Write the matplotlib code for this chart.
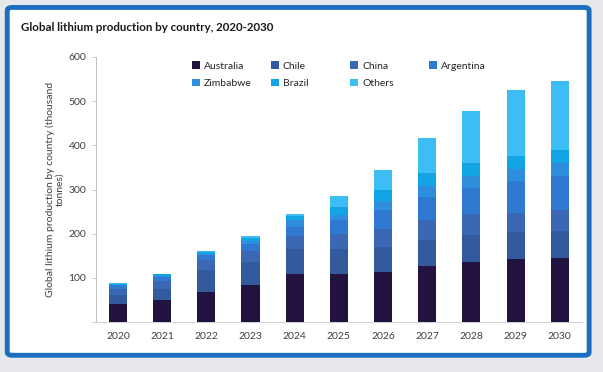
import numpy as np
import matplotlib
matplotlib.use('Agg')
import matplotlib.pyplot as plt
from matplotlib.patches import FancyBboxPatch, Patch
from matplotlib.legend import Legend

plt.rcParams['font.family'] = ['Lato', 'DejaVu Sans']

# data (thousand tonnes)
years = ['2020', '2021', '2022', '2023', '2024', '2025', '2026', '2027', '2028', '2029', '2030']
australia = [40, 50, 68, 85, 110, 109, 114, 127, 137, 142, 146]
chile     = [22, 25, 50, 52, 55, 56, 56, 59, 60, 61, 61]
china     = [14, 18, 22, 25, 30, 34, 40, 45, 47, 44, 47]
argentina = [8, 10, 12, 15, 20, 32, 44, 53, 60, 72, 77]
zimbabwe  = [0, 2, 3, 7, 15, 12, 20, 25, 26, 27, 28]
brazil    = [2, 3, 4, 6, 10, 18, 25, 28, 31, 30, 30]
others    = [2, 2, 3, 5, 5, 24, 45, 79, 117, 149, 157]

series = [('Australia', australia), ('Chile', chile), ('China', china),
          ('Argentina', argentina), ('Zimbabwe', zimbabwe), ('Brazil', brazil),
          ('Others', others)]
colors = ['#22123f', '#325a9c', '#3b68b4', '#2f79d0', '#2f8edb', '#12a4e4', '#3cbef4']

fig = plt.figure(figsize=(6.03, 3.72), dpi=100)
fig.patch.set_facecolor('#e6e8eb')

# framed card behind the chart
frame = FancyBboxPatch((0.012, 0.045), 0.965, 0.935, boxstyle='round,pad=0,rounding_size=0.008',
                       transform=fig.transFigure, facecolor='white', edgecolor='#1a6fbf',
                       linewidth=3.5, zorder=-5)
fig.patches.append(frame)

fig.text(0.035, 0.918, 'Global lithium production by country, 2020-2030',
         fontsize=8.3, fontweight='bold', color='#1a1a1a')

ax = fig.add_axes([0.159, 0.134, 0.806, 0.713])
ax.set_facecolor('none')

x = np.arange(len(years))
bottom = np.zeros(len(years))
for (name, vals), c in zip(series, colors):
    ax.bar(x, vals, bottom=bottom, width=0.41, color=c, label=name, zorder=2)
    bottom += np.array(vals)

ax.set_xlim(-0.5, len(years) - 0.5)
ax.set_ylim(0, 600)
ax.set_xticks(x)
ax.set_xticklabels(years)
ax.set_yticks(np.arange(0, 601, 100))
ax.set_yticklabels([''] + [str(v) for v in range(100, 601, 100)])
ax.tick_params(axis='x', length=0, pad=7, labelsize=7.5, colors='#404040')
ax.tick_params(axis='y', length=3, width=0.6, color='#bfbfbf', pad=4, labelsize=7.5, labelcolor='#404040')
for s in ['top', 'right']:
    ax.spines[s].set_visible(False)
ax.spines['left'].set_color('#bfbfbf')
ax.spines['bottom'].set_color('#d0d0d0')
ax.spines['left'].set_linewidth(0.7)
ax.spines['bottom'].set_linewidth(0.7)

ax.set_ylabel('Global lithium production by country (thousand\ntonnes)',
              fontsize=7.5, color='#404040', labelpad=3, linespacing=1.1)

# legend: 4 evenly spaced columns, filled row-wise
handles = [Patch(facecolor=c, label=n) for (n, _), c in zip(series, colors)]
cols = [[0, 4], [1, 5], [2, 6], [3]]
for k, idx in enumerate(cols):
    lg = Legend(ax, [handles[i] for i in idx], [series[i][0] for i in idx],
                loc='upper left', bbox_to_anchor=(0.18 + k * 0.163, 1.015), frameon=False,
                fontsize=7.5, handlelength=0.75, handleheight=0.75, handletextpad=0.4,
                labelspacing=0.75, borderpad=0.3, labelcolor='#262626')
    ax.add_artist(lg)

fig.savefig('out.png', dpi=100, facecolor=fig.get_facecolor())
